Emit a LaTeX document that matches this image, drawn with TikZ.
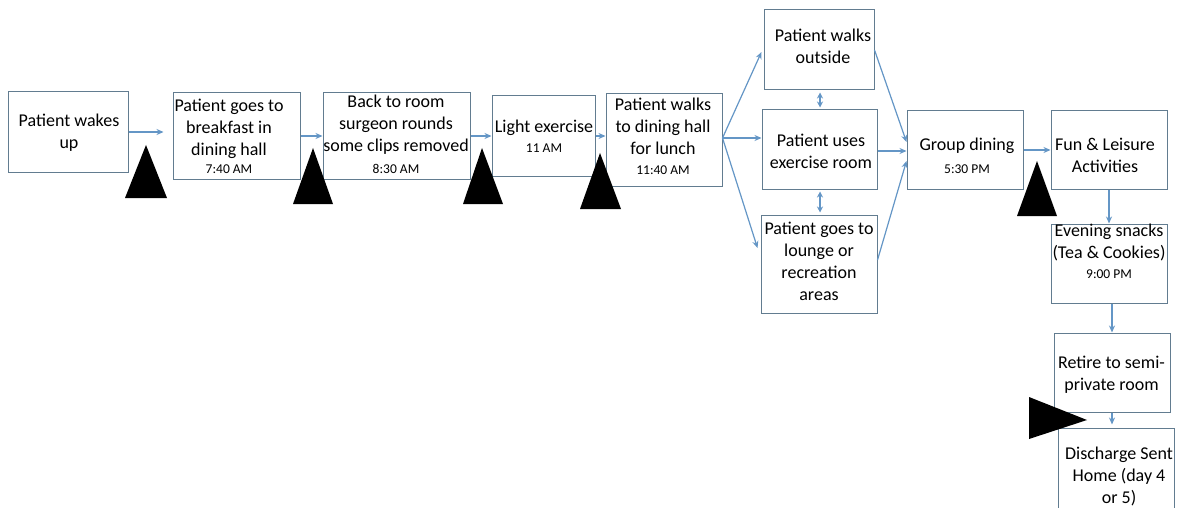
\documentclass[tikz,border=0pt]{standalone}
\usepackage{fontspec}
\setmainfont{Carlito}
\usetikzlibrary{calc,arrows.meta}
\definecolor{flowblue}{RGB}{100,150,198}
\definecolor{boxedge}{RGB}{98,124,144}
\newcommand{\tm}[1]{{\fontsize{13.5}{22}\selectfont #1}}
\tikzset{
  stepbox/.style={draw=boxedge, line width=1pt, fill=white, rectangle, inner sep=0pt},
  steptext/.style={align=center, inner sep=0pt, font=\fontsize{18}{22}\selectfont},
  arr/.style={draw=flowblue, line width=1.2pt, -{Stealth[length=7pt,width=6pt]}},
  darr/.style={draw=flowblue, line width=1.2pt, {Stealth[length=6pt,width=6pt]}-{Stealth[length=6pt,width=6pt]}},
  marker/.style={fill=black, draw=none}
}
% placement helper: box from (x1,y1) to (x2,y2), y grows downward
\newcommand{\stepat}[5]{%
  \node[stepbox, minimum width=#4-#2, minimum height=#5-#3] (#1) at ({(#2+#4)/2},{(#3+#5)/2}) {};}
\begin{document}
\begin{tikzpicture}[x=1pt,y=-1pt]
\clip (0,0) rectangle (1178,508);
\fill[white] (0,0) rectangle (1178,508);

% boxes
\stepat{b1}{8}{92}{128}{172}
\stepat{b2}{173}{93}{300}{179}
\stepat{b3}{323}{93}{470}{179}
\stepat{b4}{492}{96}{595}{176}
\stepat{b5}{606}{94}{722}{186}
\stepat{b6}{764}{10}{874}{90}
\stepat{b7}{762}{110}{877}{189}
\stepat{b8}{761}{215}{877}{313}
\stepat{b9}{907}{111}{1023}{189}
\stepat{b10}{1051}{111}{1167}{189}
\stepat{b11}{1051}{224}{1167}{303}
\stepat{b12}{1054}{333}{1170}{412}
\stepat{b13}{1058}{428}{1174}{530}

% box texts
\node[steptext] (t1) at (69,133) {Patient wakes\\up};
\node[steptext] (t2) at (229,136.5) {Patient goes to\\breakfast in\\dining hall\\[-4pt]\tm{7:40 AM}};
\node[steptext] (t3) at (396,134) {Back to room\\surgeon rounds\\some clips removed\\[0pt]\tm{8:30 AM}};
\node[steptext] (t4) at (544,136) {Light exercise\\[-2pt]\tm{11 AM}};
\node[steptext] (t5) at (663,136) {Patient walks\\to dining hall\\for lunch\\[-2pt]\tm{11:40 AM}};
\node[steptext] (t6) at (823,46) {Patient walks\\outside};
\node[steptext] (t7) at (821,151.5) {Patient uses\\exercise room};
\node[steptext] (t8) at (819,261.5) {Patient goes to\\lounge or\\recreation\\areas};
\node[steptext] (t9) at (967,155.5) {Group dining\\[1pt]\tm{5:30 PM}};
\node[steptext] (t10) at (1105,155.5) {Fun \& Leisure\\Activities};
\node[steptext] (t11) at (1109,251.5) {Evening snacks\\(Tea \& Cookies)\\[-2pt]\tm{9:00 PM}};
\node[steptext] (t12) at (1111.5,375) {Retire to semi-\\private room};
\node[steptext] (t13) at (1119,476.5) {Discharge Sent\\Home (day 4\\or 5)};

% flow connectors
\draw[arr, shorten >=9pt] (b1.east) -- (b2.west |- b1.east);
\draw[arr] (b2.east) -- (b3.west |- b2.east);
\draw[arr] (b3.east) -- (b4.west |- b3.east);
\draw[arr] (b4.east) -- (b5.west |- b4.east);

\coordinate (fan) at ($(b5.east)+(0,-2)$);
\draw[arr] (fan) -- ($(b6.west)+(-2,2)$);
\draw[arr] (fan) -- (b7.west |- fan);
\draw[arr] (fan) -- ($(b8.west)+(-3,-16)$);

\draw[darr] ($(b6.south)+(1,2)$) -- ($(b7.north)+(0.5,-2)$);
\draw[darr] ($(b7.south)+(0.5,2)$) -- ($(b8.north)+(1,-2)$);

\draw[arr] (b6.east) -- ($(b9.west)+(0,-8)$);
\draw[arr] ($(b7.east)+(0,1.5)$) -- ($(b9.west)+(0,1)$);
\draw[arr] ($(b8.east)+(0,-4)$) -- ($(b9.west)+(0,11)$);

\draw[arr] (b9.east) -- (b10.west);
\draw[arr] (b10.south) -- (b11.north);
\draw[arr] (b12.north |- b11.south) -- (b12.north);
\draw[arr, shorten >=3pt] (b12.south) -- (b12.south |- b13.north);

% black markers
\fill[marker] (125,198) -- (167,198) -- (146,145) -- cycle;
\fill[marker] (293,204) -- (333,204) -- (313,148) -- cycle;
\fill[marker] (463,204) -- (503,204) -- (482,148) -- cycle;
\fill[marker] (580,209) -- (621,209) -- (600,153) -- cycle;
\fill[marker] (1017,216) -- (1057,216) -- (1037,161) -- cycle;
\fill[marker] (1029,397) -- (1029,439) -- (1087,420) -- cycle;
\end{tikzpicture}
\end{document}
